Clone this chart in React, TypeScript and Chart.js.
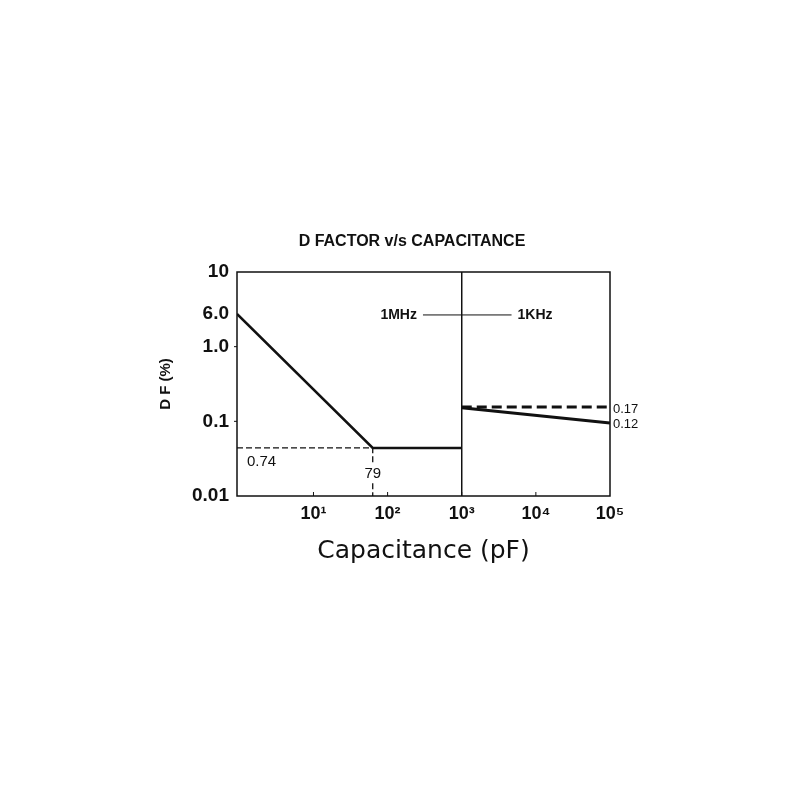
import React, { useEffect, useRef } from "react";
import Chart from "chart.js/auto";

// capacitance in pF, D F in %
const xMin = 0.93;
const xMax = 100000;
const yMin = 0.01;
const yMax = 10;

// 1 MHz curve
const mhzCap = [0.93, 63, 1000];
const mhzDf = [2.74, 0.044, 0.044];

// 1 KHz curves
const khzCap = [1000, 100000];
const khzDfDashed = [0.155, 0.155];
const khzDfSolid = [0.152, 0.095];

// dashed guide to the knee
const guideCap = [0.93, 63, 63];
const guideDf = [0.044, 0.044, 0.01];

// divider between 1MHz and 1KHz ranges
const dividerCap = [1000, 1000];
const dividerDf = [0.01, 10];

// 1MHz ---- 1KHz marker
const markerCap = [300, 4700];
const markerDf = [2.66, 2.66];

const xTickValues = [10, 100, 1000, 10000, 100000];
const xTickLabels = ["10¹", "10²", "10³", "10⁴", "10⁵"];
const yTickValues = [0.01, 0.1, 1, 2.74, 10];
const yTickLabels = ["0.01", "0.1", "1.0", "6.0", "10"];

const INK = "#111";
const SANS = "'Liberation Sans', Arial, sans-serif";

const pts = (xs: number[], ys: number[]) => xs.map((x, i) => ({ x, y: ys[i] }));

const decorPlugin = {
  id: "decor",
  afterDatasetsDraw(chart: any) {
    const { ctx, chartArea: a, scales } = chart;
    const x = scales.x;
    const y = scales.y;
    ctx.save();

    // frame
    ctx.strokeStyle = INK;
    ctx.lineWidth = 1.5;
    ctx.strokeRect(a.left, a.top, a.right - a.left, a.bottom - a.top);

    // small tick marks
    ctx.lineWidth = 1;
    ctx.beginPath();
    xTickValues.slice(0, -1).forEach((v) => {
      const px = x.getPixelForValue(v);
      ctx.moveTo(px, a.bottom);
      ctx.lineTo(px, a.bottom - 4);
    });
    [0.1, 1].forEach((v) => {
      const py = y.getPixelForValue(v);
      ctx.moveTo(a.left - 3, py);
      ctx.lineTo(a.left, py);
    });
    ctx.stroke();

    const text = (s: string, px: number, py: number, align: string, font: string, knockout = false) => {
      ctx.font = font;
      ctx.textAlign = align;
      ctx.textBaseline = "middle";
      if (knockout) {
        const w = ctx.measureText(s).width;
        ctx.fillStyle = "#fff";
        ctx.fillRect(px - w / 2 - 1, py - 9, w + 2, 18);
      }
      ctx.fillStyle = INK;
      ctx.fillText(s, px, py);
    };

    // title
    text("D FACTOR v/s CAPACITANCE", a.left + 175, a.top - 30, "center", `bold 16px ${SANS}`);

    // knee labels
    const kneeY = y.getPixelForValue(mhzDf[1]);
    text("0.74", a.left + 10, kneeY + 14, "left", `15px ${SANS}`);
    text("79", x.getPixelForValue(mhzCap[1]), kneeY + 26, "center", `15px ${SANS}`, true);

    // end labels
    text("0.17", a.right + 3, y.getPixelForValue(khzDfDashed[1]) + 2, "left", `13px ${SANS}`);
    text("0.12", a.right + 3, y.getPixelForValue(khzDfSolid[1]) + 1, "left", `13px ${SANS}`);

    // frequency marker
    const my = y.getPixelForValue(markerDf[0]);
    text("1MHz", x.getPixelForValue(markerCap[0]) - 6, my, "right", `bold 14px ${SANS}`);
    text("1KHz", x.getPixelForValue(markerCap[1]) + 6, my, "left", `bold 14px ${SANS}`);

    ctx.restore();
  },
};

export const DFactorChart: React.FC = () => {
  const canvasRef = useRef<HTMLCanvasElement | null>(null);

  useEffect(() => {
    if (!canvasRef.current) return;

    const line = (data: { x: number; y: number }[], width: number, dash: number[] = []) => ({
      data,
      borderColor: INK,
      borderWidth: width,
      borderDash: dash,
      pointRadius: 0,
      tension: 0,
      fill: false,
    });

    const chart = new Chart(canvasRef.current, {
      type: "line",
      data: {
        datasets: [
          line(pts(guideCap, guideDf), 1.3, [6, 3]),
          line(pts(dividerCap, dividerDf), 1.5),
          line(pts(markerCap, markerDf), 1),
          line(pts(mhzCap, mhzDf), 2.5),
          line(pts(khzCap, khzDfDashed), 3, [10, 5]),
          line(pts(khzCap, khzDfSolid), 3),
        ] as any,
      },
      options: {
        responsive: false,
        animation: false,
        layout: { padding: { top: 272, left: 150, right: 190, bottom: 200 } },
        plugins: {
          legend: { display: false },
          tooltip: { enabled: false },
        },
        scales: {
          x: {
            type: "logarithmic",
            min: xMin,
            max: xMax,
            afterBuildTicks: (s: any) => {
              s.ticks = xTickValues.map((value) => ({ value }));
            },
            afterFit: (s: any) => {
              s.height = 104;
            },
            grid: { display: false, drawTicks: false },
            border: { display: false },
            ticks: {
              autoSkip: false,
              maxRotation: 0,
              padding: 7,
              color: INK,
              font: { family: SANS, size: 18, weight: "bold" },
              callback: (_v: any, i: number) => xTickLabels[i],
            },
            title: {
              display: true,
              text: "Capacitance (pF)",
              color: INK,
              font: { family: "'DejaVu Sans', sans-serif", size: 25 },
              padding: { top: 0, bottom: 34 },
            },
          },
          y: {
            type: "logarithmic",
            min: yMin,
            max: yMax,
            afterBuildTicks: (s: any) => {
              s.ticks = yTickValues.map((value) => ({ value }));
            },
            afterFit: (s: any) => {
              s.width = 87;
            },
            grid: { display: false, drawTicks: false },
            border: { display: false },
            ticks: {
              autoSkip: false,
              padding: 8,
              color: INK,
              font: { family: SANS, size: 19, weight: "bold" },
              callback: (_v: any, i: number) => yTickLabels[i],
            },
            title: {
              display: true,
              text: "D F (%)",
              color: INK,
              font: { family: SANS, size: 15, weight: "bold" },
              padding: { top: 7, bottom: 0 },
            },
          },
        },
      } as any,
      plugins: [decorPlugin],
    });

    return () => {
      chart.destroy();
    };
  }, []);

  return <canvas ref={canvasRef} width={800} height={800} style={{ width: 800, height: 800 }} />;
};

export default function App() {
  return (
    <div style={{ position: "fixed", left: 0, top: 0, width: 800, height: 800, background: "#fff" }}>
      <DFactorChart />
    </div>
  );
}
